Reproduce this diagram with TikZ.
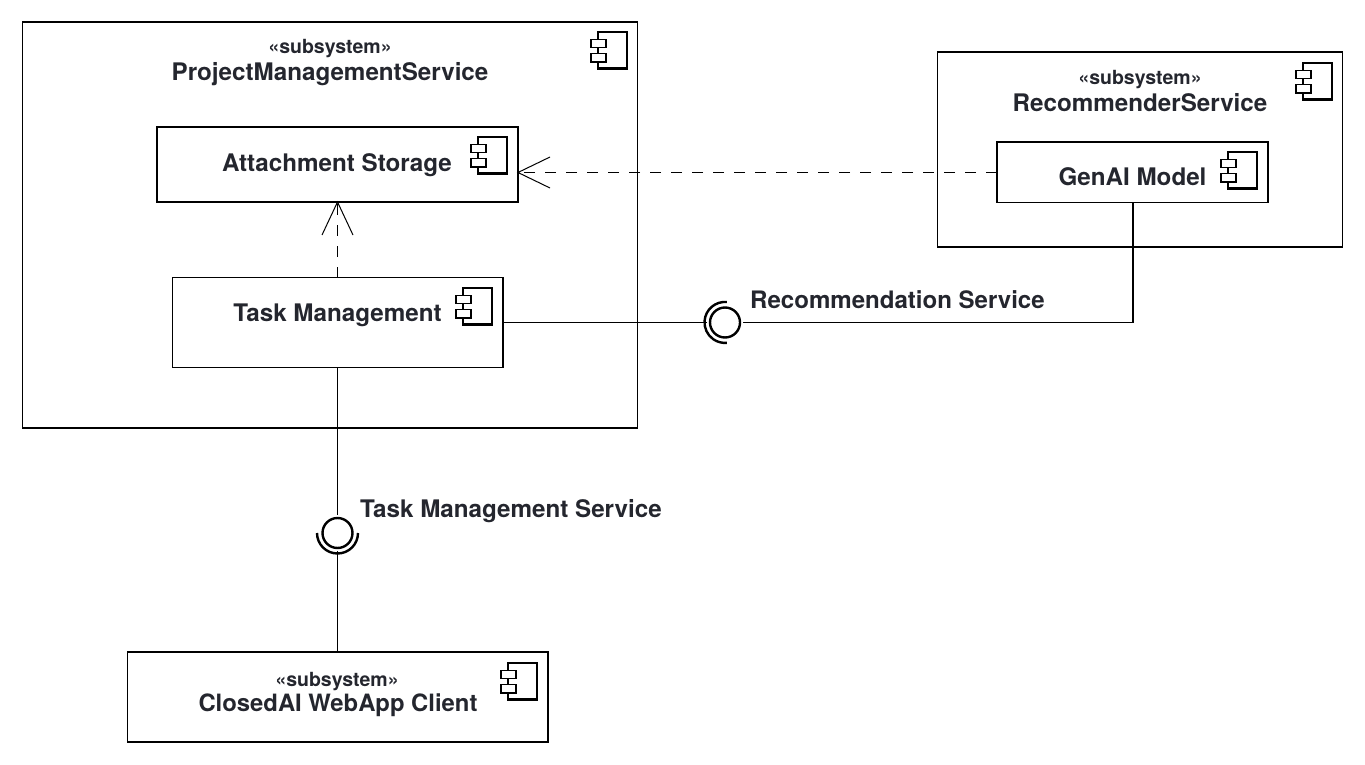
\documentclass[tikz,border=0pt]{standalone}
\usepackage{fontspec}
\setmainfont{TeX Gyre Heros}[BoldFont=* Bold]
\definecolor{ink}{HTML}{24262E}
\newcommand{\compicon}[2]{%
  \begin{scope}[shift={(#1,#2)},line width=2.1pt]
    \draw (0,7) -- (0,0) -- (29,0) -- (29,36.5) -- (0,36.5) -- (0,30);
    \draw (0,15.5) -- (0,21.5);
    \draw[line width=1.7pt] (-7,7.5) rectangle (8,15.5);
    \draw[line width=1.7pt] (-7,21.5) rectangle (8,30);
  \end{scope}}
\tikzset{
  x=1pt,y=-1pt,
  umlbox/.style={draw,line width=1.6pt,inner sep=0pt,outer sep=0pt,anchor=north west,rectangle},
  wire/.style={line width=1.6pt},
  dep/.style={line width=1.2pt,dash pattern=on 11pt off 10pt},
  stereo/.style={inner sep=0pt,font=\bfseries\fontsize{19.5}{19.5}\selectfont,text=ink,anchor=base},
  compname/.style={inner sep=0pt,font=\bfseries\fontsize{24.2}{24.2}\selectfont,text=ink,anchor=base},
}
\begin{document}
\begin{tikzpicture}
\useasboundingbox (0,0) rectangle (1365,765);
\node[umlbox,minimum width=615pt,minimum height=406pt] (pms) at (22.5,22) {};
\node[umlbox,minimum width=405pt,minimum height=195pt] (rec) at (937.5,52) {};
\node[umlbox,minimum width=361pt,minimum height=75pt] (att) at (157,127) {};
\node[umlbox,minimum width=330.5pt,minimum height=90pt] (tm) at (172.5,277.5) {};
\node[umlbox,minimum width=271pt,minimum height=60.5pt] (gen) at (997,142) {};
\node[umlbox,minimum width=420.5pt,minimum height=90pt] (cli) at (127.5,652) {};
\node[stereo] (s1) at (330,53.7) {«subsystem»};
\node[compname] (n1) at (330,80.7) {ProjectManagementService};
\node[stereo] (s2) at (1140,84.7) {«subsystem»};
\node[compname] (n2) at (1140,111.7) {RecommenderService};
\node[stereo] (s3) at (337,686) {«subsystem»};
\node[compname,font=\bfseries\fontsize{23.85}{23.85}\selectfont] (n3) at (338,711) {ClosedAI WebApp Client};
\node[compname] (n4) at (337,171.5) {Attachment Storage};
\node[compname] (n5) at (337.5,321) {Task Management};
\node[compname] (n6) at (1132.5,185) {GenAI Model};
\node[compname,anchor=base west,font=\bfseries\fontsize{24.05}{24.05}\selectfont] (l1) at (750,308) {Recommendation Service};
\node[compname,anchor=base west] (l2) at (360,517) {Task Management Service};
\compicon{598}{32}
\compicon{478}{137}
\compicon{463}{288}
\compicon{1228}{152}
\compicon{1303}{63}
\compicon{508}{663}
\coordinate (i1) at (725,322.5);
\coordinate (i2) at (337.5,533);
\coordinate (bend) at (1133,322.5);
\coordinate (dh) at (0,172.5);
\coordinate (dv) at (337.5,0);
\draw[wire] (tm.east |- i1) -- (i1);
\draw[wire] (i1) -- (bend) -- (bend |- gen.south);
\draw[wire] (tm.south -| i2) -- (i2);
\draw[wire] (i2) -- (cli.north -| i2);
\fill[white] (i1) circle (18pt);
\fill[white] (i2) circle (18pt);
\draw[line width=2.4pt] (i1) circle (15pt);
\draw[line width=2.4pt] (i2) circle (15pt);
\draw[line width=2.4pt] (726.8,302) arc[start angle=85,end angle=275,radius=20.5pt];
\draw[line width=2.4pt] (317,533) arc[start angle=180,end angle=360,radius=20.5pt];
\draw[dep] (gen.west |- dh) -- (att.east |- dh);
\draw[line width=1pt] (550,157) -- (att.east |- dh) -- (550,188);
\draw[dep] (tm.north -| dv) -- (att.south -| dv);
\draw[line width=1pt] (322,235) -- (att.south -| dv) -- (353,235);
\end{tikzpicture}
\end{document}
